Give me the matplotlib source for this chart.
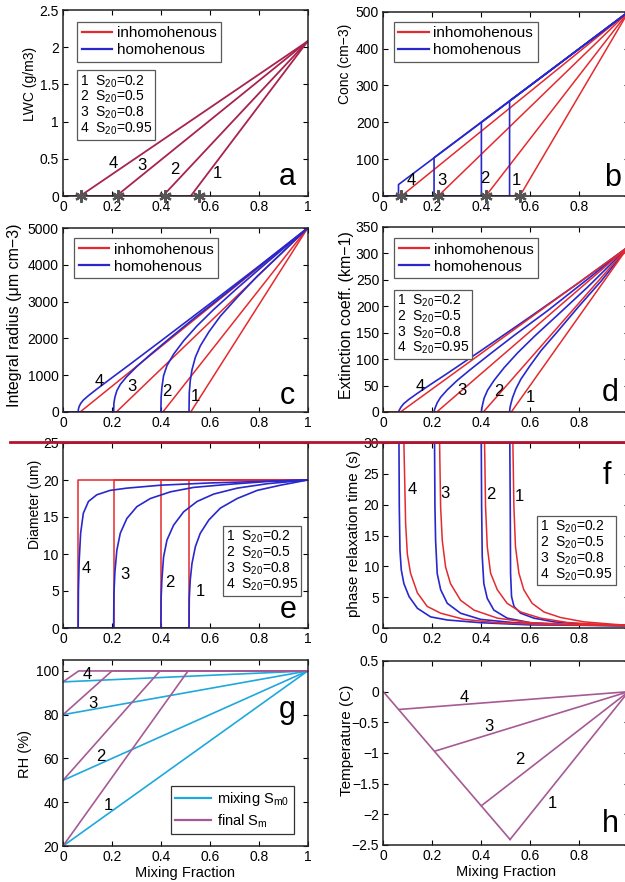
import matplotlib
matplotlib.use('Agg')
import matplotlib.pyplot as plt
from matplotlib.lines import Line2D

plt.rcParams['font.family'] = ['Liberation Sans', 'DejaVu Sans']
plt.rcParams['mathtext.fontset'] = 'custom'
plt.rcParams['mathtext.rm'] = 'Liberation Sans'
plt.rcParams['mathtext.it'] = 'Liberation Sans:italic'
plt.rcParams['mathtext.default'] = 'regular'
plt.rcParams['axes.linewidth'] = 1.1
plt.rcParams['axes.edgecolor'] = '#222222'

RED = '#e42a2e'
BLUE = '#2828cc'
MIX = '#a8234e'
STAR = '#555555'
CYAN = '#1fa8dc'
PURPLE = '#a65a94'

FIG_W, FIG_H = 625, 882

CASES = ['1', '2', '3', '4']
S20 = ['0.2', '0.5', '0.8', '0.95']
XTICKS = [0, 0.2, 0.4, 0.6, 0.8, 1]
XTICKLABELS = ['0', '0.2', '0.4', '0.6', '0.8', '1']

# critical mixing fraction, homogeneous mixing (cases 1..4)
XC_HOMO = [0.515, 0.40, 0.207, 0.062]
# start of inhomogeneous branch
XC_INHOMO = [0.522, 0.408, 0.218, 0.07]
# asterisks on the x axis (a, b)
STAR_X = [0.557, 0.418, 0.224, 0.074]

LWC_END = 2.08
CONC_END = 500
CONC_AT_XC = [258, 200, 104, 31]
INTRAD_END = 5000
EXT_END = 313
DIAM_END = 20

# homogeneous curves: x samples per case
HOMO_X = [
    [0.515, 0.516, 0.52, 0.527, 0.541, 0.561, 0.596, 0.643, 0.712, 0.794, 0.889, 1.0],
    [0.40, 0.401, 0.404, 0.411, 0.425, 0.452, 0.493, 0.548, 0.616, 0.712, 0.835, 1.0],
    [0.207, 0.208, 0.212, 0.22, 0.234, 0.261, 0.302, 0.357, 0.439, 0.534, 0.671, 0.835, 1.0],
    [0.062, 0.063, 0.066, 0.072, 0.083, 0.104, 0.138, 0.193, 0.261, 0.4, 0.6, 0.8, 1.0],
]
DIAM_HOMO = [
    [0, 4.0, 6.5, 8.7, 11.0, 12.8, 14.6, 16.2, 17.5, 18.6, 19.3, 20],
    [0, 4.0, 6.5, 9.6, 11.9, 13.9, 15.7, 17.1, 18.1, 18.9, 19.5, 20],
    [0, 4.5, 7.5, 10.5, 12.8, 14.8, 16.4, 17.5, 18.4, 19.0, 19.4, 19.8, 20],
    [0, 5.0, 9.0, 12.8, 15.5, 17.1, 18.0, 18.6, 18.9, 19.3, 19.6, 19.8, 20],
]
INTRAD_HOMO = [
    [0, 516, 845, 1146, 1488, 1795, 2175, 2604, 3115, 3692, 4289, 5000],
    [0, 401, 657, 986, 1264, 1571, 1935, 2343, 2787, 3364, 4071, 5000],
    [0, 234, 398, 578, 749, 966, 1238, 1562, 2019, 2537, 3254, 4133, 5000],
    [0, 79, 149, 230, 322, 445, 621, 897, 1233, 1930, 2940, 3960, 5000],
]
EXT_HOMO = [
    [0, 6, 15, 27, 44, 62, 86, 116, 153, 198, 248, 313],
    [0, 4.5, 12, 26, 41, 60, 84, 112, 143, 184, 237, 313],
    [0, 3, 8.5, 17.5, 28, 42, 60, 81, 111, 145, 192, 252, 313],
    [0, 1.2, 4.2, 9.2, 15.6, 23.8, 35.0, 52.2, 73.0, 116.6, 180.4, 245.4, 313],
]

# phase relaxation time
TAU_HOMO_X = [
    [0.516, 0.5177, 0.519, 0.523, 0.533, 0.56, 0.614, 0.696, 0.804, 1.0],
    [0.3995, 0.401, 0.4035, 0.41, 0.424, 0.451, 0.505, 0.60, 0.736, 1.0],
    [0.209, 0.2106, 0.2133, 0.22, 0.234, 0.261, 0.315, 0.397, 0.533, 0.736, 1.0],
    [0.0639, 0.0652, 0.068, 0.0734, 0.084, 0.105, 0.139, 0.193, 0.261, 0.397, 0.60, 1.0],
]
TAU_HOMO = [
    [30, 19.7, 8.9, 5.1, 3.5, 2.4, 1.6, 1.0, 0.65, 0.43],
    [30, 19.7, 11.6, 7.2, 4.8, 2.9, 1.6, 0.86, 0.54, 0.38],
    [30, 19.7, 14.2, 8.8, 6.2, 4.0, 2.4, 1.4, 0.86, 0.5, 0.38],
    [30, 19.7, 12.6, 9.4, 7.2, 5.1, 3.2, 1.8, 1.3, 0.86, 0.5, 0.38],
]
TAU_INHOMO_X = [
    [0.5285, 0.5326, 0.539, 0.553, 0.573, 0.607, 0.655, 0.723, 0.818, 0.94, 1.0],
    [0.413, 0.417, 0.424, 0.4375, 0.465, 0.505, 0.56, 0.641, 0.75, 0.872, 1.0],
    [0.2296, 0.2337, 0.2405, 0.254, 0.274, 0.315, 0.37, 0.465, 0.60, 0.804, 1.0],
    [0.084, 0.091, 0.098, 0.111, 0.139, 0.179, 0.234, 0.329, 0.465, 0.668, 1.0],
]
TAU_INHOMO = [
    [30, 19.7, 13.2, 8.9, 6.2, 4.0, 2.6, 1.7, 1.0, 0.6, 0.43],
    [30, 19.7, 13.2, 8.9, 6.2, 4.0, 2.6, 1.6, 0.9, 0.6, 0.38],
    [30, 19.7, 14.2, 9.9, 7.2, 4.5, 2.9, 1.6, 0.86, 0.54, 0.38],
    [30, 17, 12, 8.9, 5.7, 3.5, 2.4, 1.4, 0.86, 0.54, 0.38],
]

# RH: environmental S (%) and x where final S reaches saturation
RH_S0 = [20, 50, 80, 95]
RH_SAT_X = [0.511, 0.396, 0.20, 0.064]
RH_MAX = 100

# temperature: turning points on the mixing line
T_TURN_X = [0.517, 0.40, 0.21, 0.065]
T_TURN = [-2.41, -1.86, -0.97, -0.29]
T_ENDS = [0, 0]


def add_axes(fig, left, right, top, bottom):
    ax = fig.add_axes([left / FIG_W, 1 - bottom / FIG_H,
                       (right - left) / FIG_W, (bottom - top) / FIG_H])
    ax.tick_params(direction='in', top=True, right=True, length=3.5,
                   width=0.8, labelsize=10, pad=3)
    ax.set_xlim(0, 1)
    ax.set_xticks(XTICKS)
    ax.set_xticklabels(XTICKLABELS)
    return ax


def ylabel(ax, text, xfrac, yfrac, size):
    ax.set_ylabel(text, fontsize=size, va='center')
    ax.yaxis.set_label_coords(xfrac, yfrac)


def panel_letter(ax, letter, x, y):
    ax.text(x, y, letter, transform=ax.transAxes, fontsize=22,
            ha='center', va='center')


def case_labels(ax, xs, ys, size=12):
    for lab, x, y in zip(CASES, xs, ys):
        ax.text(x, y, lab, fontsize=size, ha='center', va='center')


def stars(ax):
    ax.plot(STAR_X, [0] * 4, ls='none', marker=(6, 2, 0), ms=9, mew=1.6,
            color=STAR, clip_on=False, zorder=4)


def mix_legend(ax, x, y):
    handles = [Line2D([], [], color=RED, lw=1.6), Line2D([], [], color=BLUE, lw=1.6)]
    leg = ax.legend(handles, ['inhomohenous', 'homohenous'], loc='upper left',
                    bbox_to_anchor=(x, y), fontsize=11, fancybox=False,
                    edgecolor='0.35', framealpha=1, handlelength=2.0,
                    handletextpad=0.3, borderpad=0.3, labelspacing=0.2,
                    borderaxespad=0)
    leg.get_frame().set_linewidth(0.9)


def s20_box(ax, x, y):
    lines = ['%s  S$_{20}$=%s' % (c, s) for c, s in zip(CASES, S20)]
    ax.text(x, y, '\n'.join(lines), transform=ax.transAxes, fontsize=10,
            ha='left', va='top', linespacing=0.95,
            bbox=dict(boxstyle='square,pad=0.2', fc='white', ec='0.35', lw=0.9))


def main():
    fig = plt.figure(figsize=(FIG_W / 100, FIG_H / 100), dpi=100)

    LX0, LX1 = 63, 307.7
    RX0, RX1 = 383.3, 628.5

    # a: LWC
    ax = add_axes(fig, LX0, LX1, 10, 196)
    for i in range(4):
        ax.plot([0, XC_INHOMO[i], 1], [0, 0, LWC_END], color=MIX, lw=1.3)
    stars(ax)
    ax.set_ylim(0, 2.5)
    ax.set_yticks([0, 0.5, 1, 1.5, 2, 2.5])
    ax.set_yticklabels(['0', '0.5', '1', '1.5', '2', '2.5'])
    ylabel(ax, 'LWC (g/m3)', -0.135, 0.6, 10)
    mix_legend(ax, 0.058, 0.937)
    s20_box(ax, 0.07, 0.66)
    case_labels(ax, [0.63, 0.457, 0.321, 0.205], [0.30, 0.36, 0.41, 0.44])
    panel_letter(ax, 'a', 0.916, 0.1)

    # b: concentration
    ax = add_axes(fig, RX0, RX1, 11.7, 196)
    for i in range(4):
        ax.plot([0, STAR_X[i], 1], [0, 0, CONC_END], color=RED, lw=1.1)
    for i in range(4):
        ax.plot([0, XC_HOMO[i], XC_HOMO[i], 1], [0, 0, CONC_AT_XC[i], CONC_END],
                color=BLUE, lw=1.2)
    stars(ax)
    ax.set_ylim(0, 500)
    ax.set_yticks(range(0, 501, 100))
    ylabel(ax, 'Conc (cm\u22123)', -0.156, 0.716, 10)
    mix_legend(ax, 0.042, 0.946)
    case_labels(ax, [0.543, 0.416, 0.24, 0.114], [43, 48, 42, 42])
    panel_letter(ax, 'b', 0.933, 0.1)

    # c: integral radius
    ax = add_axes(fig, LX0, LX1, 228, 412)
    for i in range(4):
        ax.plot([0, XC_INHOMO[i], 1], [0, 0, INTRAD_END], color=RED, lw=1.1)
    for i in range(4):
        ax.plot([0] + HOMO_X[i], [0] + INTRAD_HOMO[i], color=BLUE, lw=1.2)
    ax.set_ylim(0, 5000)
    ax.set_yticks(range(0, 5001, 1000))
    ylabel(ax, 'Integral radius (\u03bcm cm\u22123)', -0.20, 0.527, 11.5)
    mix_legend(ax, 0.045, 0.946)
    case_labels(ax, [0.539, 0.426, 0.28, 0.148], [416, 552, 688, 823])
    panel_letter(ax, 'c', 0.916, 0.085)

    # d: extinction coefficient
    ax = add_axes(fig, RX0, RX1, 227, 412)
    for i in range(4):
        ax.plot([0] + HOMO_X[i], [0] + EXT_HOMO[i], color=BLUE, lw=1.2)
    for i in range(4):
        ax.plot([0, XC_INHOMO[i], 1], [0, 0, EXT_END], color=RED, lw=1.1)
    ax.set_ylim(0, 350)
    ax.set_yticks(range(0, 351, 50))
    ylabel(ax, 'Extinction coeff. (km\u22121)', -0.149, 0.524, 11.5)
    mix_legend(ax, 0.045, 0.94)
    s20_box(ax, 0.056, 0.645)
    case_labels(ax, [0.60, 0.47, 0.32, 0.151], [28, 38, 40, 48])
    panel_letter(ax, 'd', 0.925, 0.1)

    # e: diameter
    ax = add_axes(fig, LX0, LX1, 443, 628)
    for i in range(4):
        ax.plot([0, XC_HOMO[i], XC_HOMO[i], 1], [0, 0, DIAM_END, DIAM_END],
                color=RED, lw=1.1)
    for i in range(4):
        ax.plot([0] + HOMO_X[i], [0] + DIAM_HOMO[i], color=BLUE, lw=1.2)
    ax.set_ylim(0, 25)
    ax.set_yticks(range(0, 26, 5))
    ylabel(ax, 'Diameter (um)', -0.114, 0.668, 10)
    s20_box(ax, 0.665, 0.535)
    case_labels(ax, [0.562, 0.437, 0.253, 0.094], [4.9, 6.1, 7.2, 8.1])
    panel_letter(ax, 'e', 0.92, 0.1)

    # f: phase relaxation time
    ax = add_axes(fig, RX0, RX1, 443, 628)
    for i in range(4):
        ax.plot(TAU_HOMO_X[i], TAU_HOMO[i], color=BLUE, lw=1.2)
    for i in range(4):
        ax.plot(TAU_INHOMO_X[i], TAU_INHOMO[i], color=RED, lw=1.1)
    ax.set_ylim(0, 30)
    ax.set_yticks(range(0, 31, 5))
    ylabel(ax, 'phase relaxation time (s)', -0.12, 0.511, 11)
    s20_box(ax, 0.64, 0.59)
    case_labels(ax, [0.554, 0.439, 0.253, 0.117], [21.3, 21.6, 21.8, 22.4])
    panel_letter(ax, 'f', 0.912, 0.82)

    # g: relative humidity
    ax = add_axes(fig, LX0, LX1, 660, 846)
    for i in range(4):
        ax.plot([0, 1], [RH_S0[i], RH_MAX], color=CYAN, lw=1.2)
    for i in range(4):
        ax.plot([0, RH_SAT_X[i], 1], [RH_S0[i], RH_MAX, RH_MAX], color=PURPLE, lw=1.2)
    ax.set_ylim(20, 105)
    ax.set_yticks([20, 40, 60, 80, 100])
    ylabel(ax, 'RH (%)', -0.155, 0.495, 10.5)
    ax.set_xlabel('Mixing Fraction', fontsize=10.5, labelpad=1)
    handles = [Line2D([], [], color=CYAN, lw=1.6), Line2D([], [], color=PURPLE, lw=1.6)]
    leg = ax.legend(handles, ['mixing S$_{m0}$', 'final S$_{m}$'], loc='lower right',
                    bbox_to_anchor=(0.943, 0.065), fontsize=10.5, fancybox=False,
                    edgecolor='0.2', framealpha=1, handlelength=2.5,
                    handletextpad=0.4, borderpad=0.3, labelspacing=0.25,
                    borderaxespad=0)
    leg.get_frame().set_linewidth(0.9)
    case_labels(ax, [0.185, 0.154, 0.121, 0.10], [38.3, 61.1, 85.2, 98.2])
    panel_letter(ax, 'g', 0.916, 0.73)

    # h: temperature
    ax = add_axes(fig, RX0, RX1, 661, 845)
    ax.plot([0, T_TURN_X[0]], [T_ENDS[0], T_TURN[0]], color=PURPLE, lw=1.2)
    for i in range(4):
        ax.plot([T_TURN_X[i], 1], [T_TURN[i], T_ENDS[1]], color=PURPLE, lw=1.2)
    ax.set_ylim(-2.5, 0.5)
    ax.set_yticks([-2.5, -2, -1.5, -1, -0.5, 0, 0.5])
    ax.set_yticklabels(['\u22122.5', '\u22122', '\u22121.5', '\u22121', '\u22120.5', '0', '0.5'])
    ylabel(ax, 'Temperature (C)', -0.149, 0.571, 11)
    ax.set_xlabel('Mixing Fraction', fontsize=10.5, labelpad=1)
    case_labels(ax, [0.69, 0.555, 0.43, 0.33], [-1.82, -1.1, -0.56, -0.1])
    panel_letter(ax, 'h', 0.925, 0.115)

    # separator line across the figure
    fig.add_artist(Line2D([10 / FIG_W, 1], [1 - 442 / FIG_H] * 2,
                          color='#b3132e', lw=2.0))

    fig.savefig('out.png', dpi=100)


if '__main__' == __name__:
    main()
